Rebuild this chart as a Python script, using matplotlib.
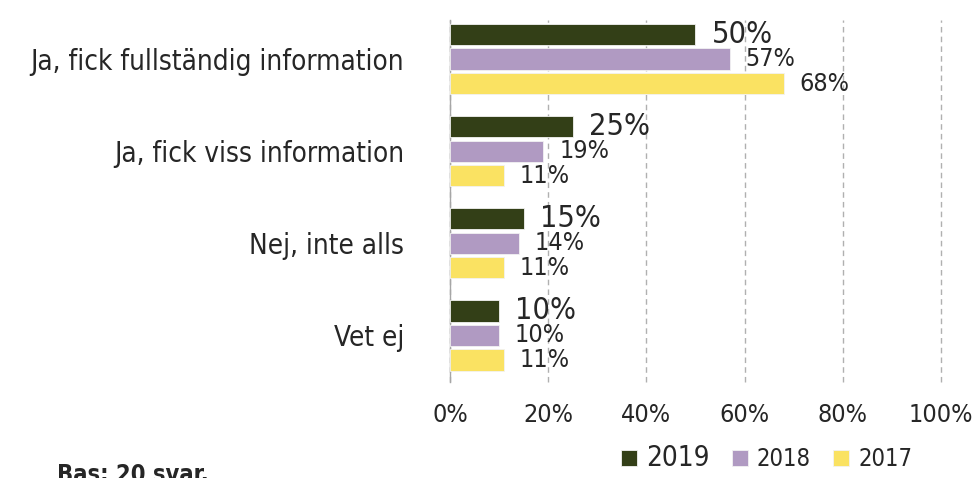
import matplotlib
matplotlib.use("Agg")
import matplotlib.pyplot as plt
import numpy as np

plt.rcParams["font.family"] = ["DejaVu Sans"]
plt.rcParams["font.stretch"] = "condensed"

categories = [
    "Ja, fick fullständig information",
    "Ja, fick viss information",
    "Nej, inte alls",
    "Vet ej",
]
years = ["2019", "2018", "2017"]
values_2019 = [50, 25, 15, 10]
values_2018 = [57, 19, 14, 10]
values_2017 = [68, 11, 11, 11]
x_ticks = [0, 20, 40, 60, 80, 100]
tick_labels = ["0%", "20%", "40%", "60%", "80%", "100%"]

colors = ["#333F17", "#B09AC2", "#FAE262"]
label_sizes = [22, 18, 18]
text_color = "#262626"

fig = plt.figure(figsize=(9.78, 4.78), dpi=100)
ax = fig.add_axes([0.4601, 0.2008, 0.502, 0.7573])

y = np.arange(len(categories))
step = 0.266
height = 0.23
series = [values_2019, values_2018, values_2017]
for i, (vals, col, yr) in enumerate(zip(series, colors, years)):
    pos = y + (i - 1) * step
    bars = ax.barh(pos, vals, height=height, color=col, edgecolor="#f2f2f2",
                   linewidth=0.6, label=yr, zorder=3)
    for b, v in zip(bars, vals):
        ax.annotate(f"{v}%", (b.get_width(), b.get_y() + b.get_height() / 2),
                    xytext=(11.5, 0), textcoords="offset points",
                    ha="left", va="center", fontsize=label_sizes[i],
                    color=text_color, zorder=4)

ax.set_xlim(0, 100)
ax.set_ylim(3.505, -0.424)
ax.set_xticks(x_ticks)
ax.set_xticklabels(tick_labels)
ax.set_yticks(y)
ax.set_yticklabels(categories)
ax.tick_params(axis="x", length=0, pad=15, labelsize=18, labelcolor=text_color)
ax.tick_params(axis="y", length=0, pad=33, labelsize=20, labelcolor=text_color)

for s in ["top", "right", "bottom"]:
    ax.spines[s].set_visible(False)
ax.spines["left"].set_color("#A6A6A6")
ax.spines["left"].set_linewidth(1.0)
ax.xaxis.grid(True, linestyle=(0, (4, 3)), color="#B0B0B0", linewidth=1.0, zorder=0)
ax.set_axisbelow(True)
for gl in ax.get_xgridlines():
    gl.set_clip_on(False)

leg = ax.legend(loc="center", bbox_to_anchor=(0.784, 0.042), bbox_transform=fig.transFigure,
                ncol=3, frameon=False, handlelength=0.68, handleheight=0.68,
                handletextpad=0.38, columnspacing=0.93, fontsize=17)
leg.get_texts()[0].set_fontsize(20)
for t in leg.get_texts():
    t.set_color(text_color)

# base note sits partly below the bottom edge, as in the source image
fig.text(0.058, 0.031, "Bas: 20 svar.", fontsize=17, fontweight="bold",
         color=text_color, ha="left", va="top")

fig.savefig("out.png", dpi=100, facecolor="white")
